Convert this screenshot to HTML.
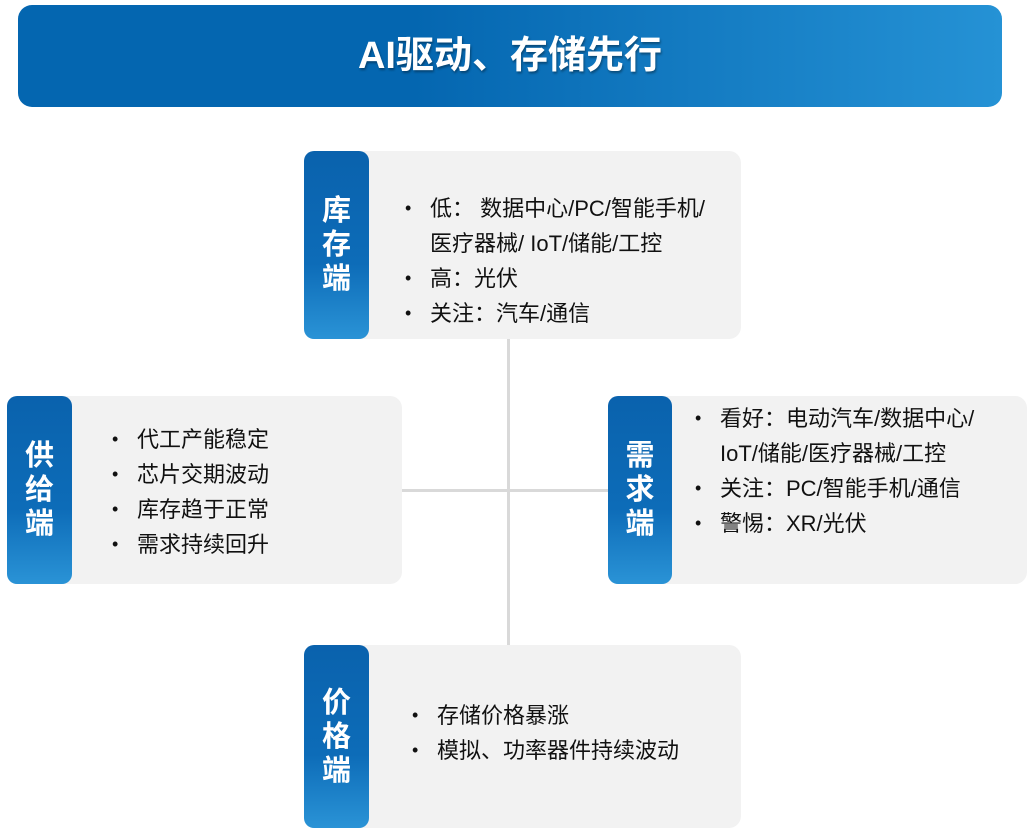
<!DOCTYPE html>
<html><head><meta charset="utf-8"><style>
*{margin:0;padding:0;box-sizing:border-box}
body{width:1028px;height:829px;background:#fff;position:relative;overflow:hidden;font-family:"Liberation Sans","Noto Sans CJK SC",sans-serif}
.hdr{position:absolute;left:18px;top:5px;width:984px;height:102px;border-radius:14px;background:linear-gradient(90deg,#0466b0 0%,#0466b0 40%,#2592d5 100%);color:#fff;font-size:38px;font-weight:bold;text-align:center;line-height:102px;text-shadow:1px 2px 2px rgba(0,0,0,.35)}
.card{position:absolute;background:#f2f2f2;border-radius:12px}
.tab{position:absolute;left:0;top:0;bottom:0;width:65px;border-radius:10px;background:linear-gradient(180deg,#0a62ad 0%,#0d6cb8 60%,#2a93d6 100%);color:#fff;font-weight:bold;font-size:29px;display:flex;flex-direction:column;justify-content:center;align-items:center;line-height:34px}
ul{position:absolute;list-style:none;font-size:22px;line-height:35px;color:#111;white-space:nowrap}
li{position:relative;padding-left:25px}
li:before{content:"•";position:absolute;left:0;top:0;font-size:18px}
.ln{position:absolute;background:#d9d9d9}
</style></head><body>
<div class="hdr">AI驱动、存储先行</div>
<div class="ln" style="left:507px;top:339px;width:3px;height:306px"></div>
<div class="ln" style="left:402px;top:489px;width:206px;height:3px"></div>

<div class="card" style="left:304px;top:151px;width:437px;height:188px">
<div class="tab"><div>库</div><div>存</div><div>端</div></div>
<ul style="left:101px;top:40px;width:330px"><li>低： 数据中心/PC/智能手机/<br>医疗器械/ IoT/储能/工控</li><li>高：光伏</li><li>关注：汽车/通信</li></ul>
</div>

<div class="card" style="left:7px;top:396px;width:395px;height:188px">
<div class="tab"><div>供</div><div>给</div><div>端</div></div>
<ul style="left:105px;top:26px"><li>代工产能稳定</li><li>芯片交期波动</li><li>库存趋于正常</li><li>需求持续回升</li></ul>
</div>

<div class="card" style="left:608px;top:396px;width:419px;height:188px">
<div class="tab" style="width:64px"><div>需</div><div>求</div><div>端</div></div>
<ul style="left:87px;top:5px;width:330px"><li>看好：电动汽车/数据中心/<br>IoT/储能/医疗器械/工控</li><li>关注：PC/智能手机/通信</li><li>警惕：XR/光伏</li></ul>
</div>

<div class="card" style="left:304px;top:645px;width:437px;height:183px">
<div class="tab"><div>价</div><div>格</div><div>端</div></div>
<ul style="left:108px;top:53px"><li>存储价格暴涨</li><li>模拟、功率器件持续波动</li></ul>
</div>
</body></html>
